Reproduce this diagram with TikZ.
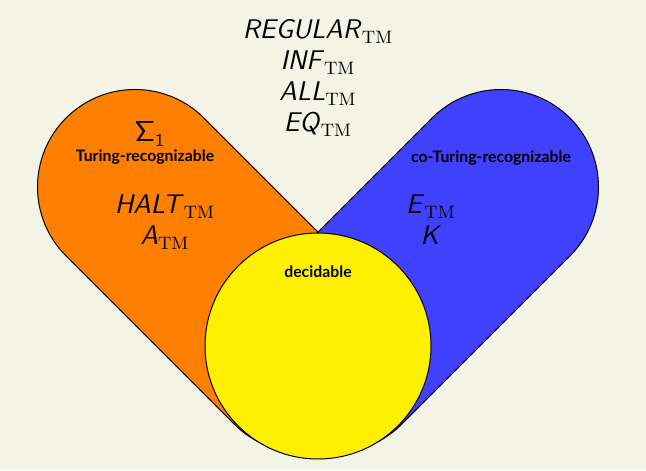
\documentclass[tikz,border=0pt]{standalone}
\usepackage[no-math]{fontspec}
\newfontfamily\labelfont{Lato}
\usepackage{xcolor}
\definecolor{bgbeige}{RGB}{243,243,230}
\definecolor{reorange}{RGB}{255,128,0}
\definecolor{coblue}{RGB}{64,64,255}
\definecolor{decyellow}{RGB}{255,240,0}
\usepackage{tikz}
\usetikzlibrary{positioning}

\newcommand{\lang}[1]{\textsf{\itshape #1}}
\newcommand{\TM}{${}_{\mathrm{TM}}$}

\begin{document}
\begin{tikzpicture}[
  x=0.5pt, y=0.5pt,
  region/.style={draw=black, line width=0.5pt},
  setname/.style={font=\labelfont\bfseries\fontsize{7.9}{9}\selectfont},
  member/.style={font=\fontsize{13.5}{15.5}\selectfont, align=center, inner sep=0pt}
]
\useasboundingbox[fill=bgbeige] (0,0) rectangle (646,470);

% Turing-recognizable
\begin{scope}[shift={(135,283)}, rotate=-45]
  \draw[region, fill=reorange] (0,97.5) -- (238,97.5) arc[start angle=90, end angle=-90, radius=97.5]
    -- (0,-97.5) arc[start angle=270, end angle=90, radius=97.5] -- cycle;
\end{scope}
% co-Turing-recognizable
\begin{scope}[shift={(501,283)}, rotate=-135]
  \draw[region, fill=coblue] (0,97.5) -- (238,97.5) arc[start angle=90, end angle=-90, radius=97.5]
    -- (0,-97.5) arc[start angle=270, end angle=90, radius=97.5] -- cycle;
\end{scope}
% decidable
\draw[region, fill=decyellow] (318,124) circle[radius=113];

\node[member] (outside) at (318,392) {\lang{REGULAR}\TM\\ \lang{INF}\TM\\ \lang{ALL}\TM\\ \lang{EQ}\TM};

\node[member] (sigma) at (150,336) {$\mathsf{\Sigma_1}$};
\node[setname] (recog) at (145,313) {Turing-recognizable};
\node[member] (halt) at (165,248) {\lang{HALT}\TM\\ \lang{A}\TM};

\node[setname] (corecog) at (491,312) {co-Turing-recognizable};
\node[member] (etm) at (431,250) {\lang{E}\TM\\ \lang{K}};

\node[setname] (dec) at (318,198) {decidable};
\end{tikzpicture}
\end{document}
